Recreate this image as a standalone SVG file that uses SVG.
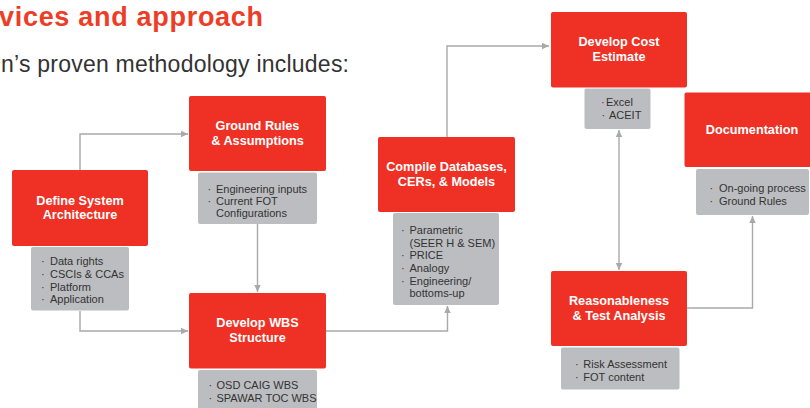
<svg xmlns="http://www.w3.org/2000/svg" width="810" height="408" viewBox="0 0 810 408">
<style>
.red{fill:#ee3124}
.gray{fill:#bcbdc0}
.lbl{font-family:"Liberation Sans",Arial,sans-serif;font-weight:bold;font-size:12.7px;fill:#fff;text-anchor:middle}
.itm{font-family:"Liberation Sans",Arial,sans-serif;font-size:11px;fill:#333}
.con{fill:none;stroke:#a7a9ac;stroke-width:1.4}
</style>
<defs>
<marker id="ah" markerUnits="userSpaceOnUse" markerWidth="8" markerHeight="8" refX="7" refY="4" orient="auto-start-reverse">
<path d="M0,0.8 L7,4 L0,7.2 Z" fill="#a7a9ac"/>
</marker>
</defs>
<rect width="810" height="408" fill="#fff"/>
<text x="-1" y="26" font-family="Liberation Sans,Arial,sans-serif" font-weight="bold" font-size="27" fill="#ee3d26" textLength="264">vices and approach</text>
<text x="1" y="72" font-family="Liberation Sans,Arial,sans-serif" font-size="23" fill="#333" textLength="348">n’s proven methodology includes:</text>

<g id="connectors">
<path class="con" d="M80,170 V134 H188" marker-end="url(#ah)"/>
<path class="con" d="M80,311 V331 H188" marker-end="url(#ah)"/>
<path class="con" d="M257.5,224 V292" marker-end="url(#ah)"/>
<path class="con" d="M326,331 H447.5 V306" marker-end="url(#ah)"/>
<path class="con" d="M447,137 V46 H549" marker-end="url(#ah)"/>
<path class="con" d="M619,130 V270" marker-start="url(#ah)" marker-end="url(#ah)"/>
<path class="con" d="M687,308 H752.5 V216" marker-end="url(#ah)"/>
</g>

<g id="define">
<rect class="red" x="12" y="170" width="136" height="76" rx="2"/>
<text class="lbl" x="80" y="205">Define System</text>
<text class="lbl" x="80" y="219">Architecture</text>
<rect class="gray" x="31" y="247" width="98" height="63.5" rx="2"/>
<text class="itm" x="41" y="265">·</text><text class="itm" x="50" y="265">Data rights</text>
<text class="itm" x="41" y="278">·</text><text class="itm" x="50" y="278">CSCIs &amp; CCAs</text>
<text class="itm" x="41" y="290.5">·</text><text class="itm" x="50" y="290.5">Platform</text>
<text class="itm" x="41" y="303">·</text><text class="itm" x="50" y="303">Application</text>
</g>

<g id="ground">
<rect class="red" x="189" y="96" width="137" height="75" rx="2"/>
<text class="lbl" x="257.5" y="130">Ground Rules</text>
<text class="lbl" x="257.5" y="145">&amp; Assumptions</text>
<rect class="gray" x="198" y="172.5" width="119" height="51.5" rx="2"/>
<text class="itm" x="207.5" y="192.5">·</text><text class="itm" x="216" y="192.5">Engineering inputs</text>
<text class="itm" x="207.5" y="205">·</text><text class="itm" x="216" y="205">Current FOT</text>
<text class="itm" x="216" y="217">Configurations</text>
</g>

<g id="wbs">
<rect class="red" x="189" y="293" width="137" height="75.5" rx="2"/>
<text class="lbl" x="257.5" y="327">Develop WBS</text>
<text class="lbl" x="257.5" y="342">Structure</text>
<rect class="gray" x="198" y="370" width="119" height="40" rx="2"/>
<text class="itm" x="208.5" y="389.3">·</text><text class="itm" x="216.5" y="389.3">OSD CAIG WBS</text>
<text class="itm" x="208.5" y="402">·</text><text class="itm" x="216.5" y="402">SPAWAR TOC WBS</text>
</g>

<g id="compile">
<rect class="red" x="378" y="137" width="137" height="75" rx="2"/>
<text class="lbl" x="446.5" y="171">Compile Databases,</text>
<text class="lbl" x="446.5" y="186">CERs, &amp; Models</text>
<rect class="gray" x="393" y="213" width="106" height="92" rx="2"/>
<text class="itm" x="401" y="234">·</text><text class="itm" x="409.5" y="234">Parametric</text>
<text class="itm" x="409.5" y="246.5">(SEER H &amp; SEM)</text>
<text class="itm" x="401" y="259.3">·</text><text class="itm" x="409.5" y="259.3">PRICE</text>
<text class="itm" x="401" y="272">·</text><text class="itm" x="409.5" y="272">Analogy</text>
<text class="itm" x="401" y="284.7">·</text><text class="itm" x="409.5" y="284.7">Engineering/</text>
<text class="itm" x="409.5" y="297.3">bottoms-up</text>
</g>

<g id="cost">
<rect class="red" x="551" y="12" width="136" height="75.5" rx="2"/>
<text class="lbl" x="619" y="46">Develop Cost</text>
<text class="lbl" x="619" y="60.5">Estimate</text>
<rect class="gray" x="584.5" y="88.5" width="66" height="40.5" rx="2"/>
<text class="itm" x="601" y="106.3">·</text><text class="itm" x="606" y="106.3">Excel</text>
<text class="itm" x="601.5" y="118.5">·</text><text class="itm" x="609" y="118.5">ACEIT</text>
</g>

<g id="reasonableness">
<rect class="red" x="551" y="271" width="136" height="75" rx="2"/>
<text class="lbl" x="619" y="305">Reasonableness</text>
<text class="lbl" x="619" y="319.5">&amp; Test Analysis</text>
<rect class="gray" x="561" y="347.5" width="118.5" height="42" rx="2"/>
<text class="itm" x="575" y="368.3">·</text><text class="itm" x="583.3" y="368.3">Risk Assessment</text>
<text class="itm" x="575" y="381">·</text><text class="itm" x="583.3" y="381">FOT content</text>
</g>

<g id="documentation">
<rect class="red" x="684.5" y="92.5" width="136" height="74.5" rx="2"/>
<text class="lbl" x="752" y="133.5">Documentation</text>
<rect class="gray" x="696" y="169" width="113" height="46" rx="2"/>
<text class="itm" x="709.5" y="192.3">·</text><text class="itm" x="719" y="192.3">On-going process</text>
<text class="itm" x="709.5" y="205">·</text><text class="itm" x="719" y="205">Ground Rules</text>
</g>
</svg>
